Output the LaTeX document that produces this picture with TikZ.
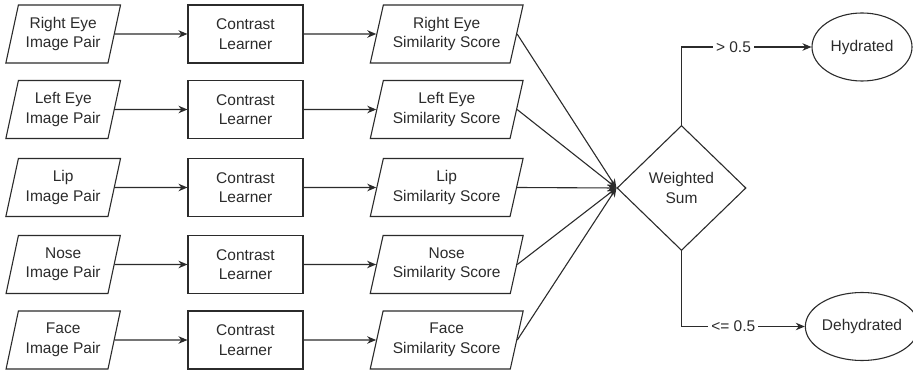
\documentclass[tikz,border=0pt]{standalone}
\usepackage{fontspec}
\setmainfont{Liberation Sans}
\usetikzlibrary{shapes.geometric,arrows.meta}
\definecolor{ink}{HTML}{2B2B2B}
\tikzset{
  base/.style={draw=ink, line width=1.1pt, text=ink, font=\fontsize{15.5}{19.5}\selectfont, align=center, inner sep=0pt},
  inbox/.style={base, trapezium, trapezium left angle=72.8, trapezium right angle=107.2, trapezium stretches=true, minimum width=115pt, minimum height=58pt},
  simbox/.style={base, trapezium, trapezium left angle=71.9, trapezium right angle=108.1, trapezium stretches=true, minimum width=153pt, minimum height=58pt},
  learnbox/.style={base, rectangle, minimum width=115pt, minimum height=58pt},
  decbox/.style={base, diamond, aspect=1.03, minimum width=129pt, minimum height=125pt},
  outbox/.style={base, ellipse, minimum width=100pt, minimum height=68pt},
  conn/.style={draw=ink, line width=1.1pt, -{Stealth[length=9pt,width=7.5pt]}},
  lbl/.style={fill=white, text=ink, font=\fontsize{15.5}{19.5}\selectfont, inner sep=3pt}
}
\begin{document}
\begin{tikzpicture}[x=1pt,y=-1pt]
\useasboundingbox (0,0) rectangle (913,371);
\foreach \n/\y/\name in {1/34/Right Eye, 2/109.5/Left Eye, 3/187.5/Lip, 4/264.5/Nose, 5/340/Face}{
  \node[inbox] (in\n) at (63.2,\y) {\name\\Image Pair};
  \node[learnbox] (cl\n) at (245.5,\y) {Contrast\\Learner};
  \node[simbox] (sim\n) at (446.7,\y) {\name\\Similarity Score};
}
\node[decbox] (ws) at (681.5,188) {Weighted\\Sum};
\node[outbox] (hyd) at (862,47) {Hydrated};
\node[outbox] (dehyd) at (862,326.5) {Dehydrated};
\foreach \n in {1,...,5}{
  \draw[conn] (in\n.east) -- (cl\n.west);
  \draw[conn] (cl\n.east) -- (sim\n.west);
  \draw[conn] (sim\n.east) -- (ws.west);
}
\draw[conn] (ws.north) |- node[lbl, pos=0.7] {> 0.5} (hyd.west);
\draw[conn] (ws.south) |- node[lbl, pos=0.71] {<= 0.5} (dehyd.west);
\end{tikzpicture}
\end{document}
